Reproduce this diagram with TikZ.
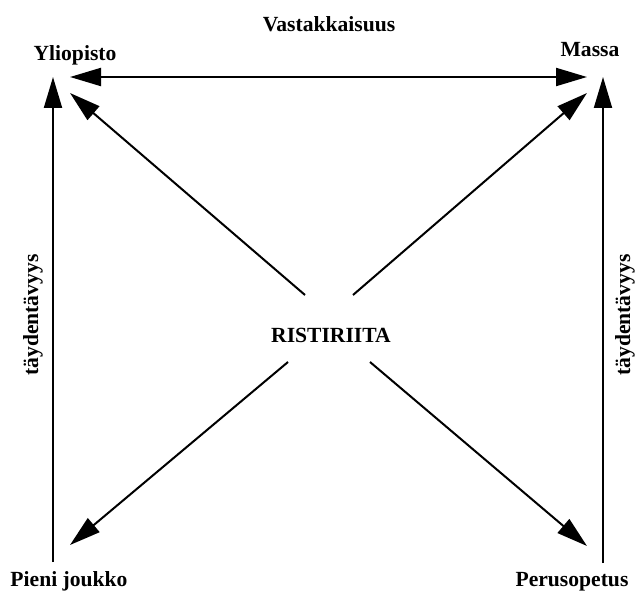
\documentclass[tikz,border=0pt]{standalone}
\usepackage{fontspec}
\setmainfont{Liberation Serif}
\usetikzlibrary{arrows.meta,positioning,calc}

\begin{document}
\begin{tikzpicture}[x=1pt,y=-1pt,
                    >={Triangle[length=31pt,width=18pt]},
                    word/.style={
                                % The text
                                font=\fontsize{21.6}{26}\selectfont\bfseries,
                                inner sep=0pt,anchor=base},
                    side/.style={
                                word,anchor=center,rotate=90},
                    link/.style={
                                line width=2pt}]
 \useasboundingbox (0,0) rectangle (637,591);
 % corner words
 \node (yliopisto) [word] at (75,61)  {Yliopisto};
 \node (massa)     [word] at (590,57) {Massa};
 \node (pieni)     [word] at (69,586) {Pieni joukko};
 \node (perus)     [word] at (572,586) {Perusopetus};
 \node (vasta)     [word] at (329,32) {Vastakkaisuus};
 \node (risti)     [word] at (331,342) {RISTIRIITA};
 \node (tayleft)   [side] at (33,315)  {täydentävyys};
 \node (tayright)  [side] at (625,315) {täydentävyys};
 % arrow ends
 \coordinate (ylH) at (70,77);   \coordinate (maH) at (587,77);
 \coordinate (ylV) at (53,77);   \coordinate (pjV) at (53,562);
 \coordinate (maV) at (603,77);  \coordinate (peV) at (603,563);
 \coordinate (ylD) at (70,93);   \coordinate (maD) at (587,93);
 \coordinate (pjD) at (70,545);  \coordinate (peD) at (587,546);
 \coordinate (rUL) at (305,295); \coordinate (rUR) at (353,295);
 \coordinate (rLL) at (288,362); \coordinate (rLR) at (370,362);
 \draw [link,<->] (ylH) -- (maH);
 \draw [link,->] (pjV) -- (ylV);
 \draw [link,->] (peV) -- (maV);
 \draw [link,->] (rUL) -- (ylD);
 \draw [link,->] (rUR) -- (maD);
 \draw [link,->] (rLL) -- (pjD);
 \draw [link,->] (rLR) -- (peD);
\end{tikzpicture}
\end{document}
